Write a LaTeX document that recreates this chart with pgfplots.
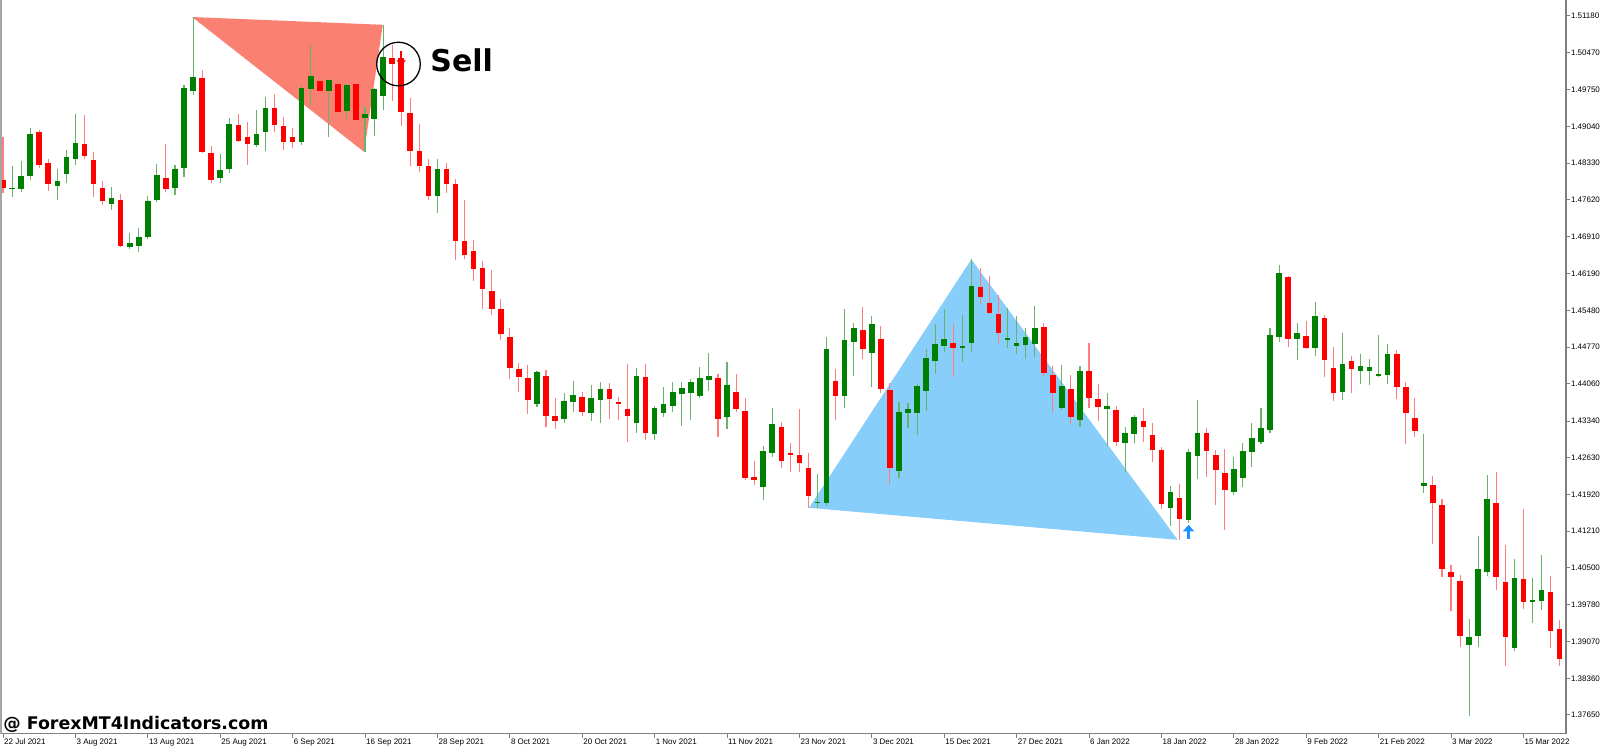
\documentclass[border=0pt]{standalone}
\usepackage{fontspec}
\setmainfont{Liberation Sans}
\newfontfamily\dejavu{DejaVu Sans}
\usepackage{pgfplots}
\usepackage{pgfplotstable}
\pgfplotsset{compat=1.18}
\usetikzlibrary{arrows.meta}

\definecolor{bull}{RGB}{0,128,0}
\definecolor{bear}{RGB}{255,0,0}
\definecolor{bullwick}{RGB}{105,178,105}
\definecolor{bearwick}{RGB}{255,125,125}
\definecolor{salmon}{RGB}{250,128,114}
\definecolor{skyblue}{RGB}{135,206,250}
\definecolor{buyblue}{RGB}{30,144,255}
\definecolor{axisgray}{RGB}{128,128,128}
\definecolor{border}{RGB}{165,165,165}

% daily candles, i = bar number (0 = 22 Jul 2021)
\pgfplotstableread{
i o h l c
1 1.4783 1.4828 1.4768 1.4786
2 1.4783 1.4837 1.4777 1.4808
3 1.4808 1.4901 1.4801 1.4890
6 1.4789 1.4822 1.4762 1.4799
7 1.4812 1.4859 1.4795 1.4845
8 1.4841 1.4928 1.4830 1.4872
12 1.4754 1.4787 1.4743 1.4766
14 1.4671 1.4698 1.4667 1.4679
15 1.4673 1.4708 1.4661 1.4690
16 1.4690 1.4770 1.4686 1.4760
17 1.4762 1.4832 1.4758 1.4810
19 1.4785 1.4830 1.4772 1.4822
20 1.4824 1.4984 1.4806 1.4979
21 1.4973 1.5116 1.4965 1.5000
24 1.4804 1.4851 1.4795 1.4820
25 1.4822 1.4921 1.4814 1.4909
28 1.4868 1.4936 1.4864 1.4890
29 1.4894 1.4961 1.4857 1.4940
33 1.4874 1.4984 1.4868 1.4979
34 1.4976 1.5064 1.4944 1.5001
36 1.4973 1.4996 1.4884 1.4994
38 1.4935 1.4986 1.4919 1.4984
40 1.4921 1.4942 1.4855 1.4928
41 1.4918 1.4979 1.4886 1.4977
42 1.4963 1.5101 1.4936 1.5039
48 1.4770 1.4842 1.4737 1.4821
59 1.4367 1.4431 1.4361 1.4429
62 1.4338 1.4389 1.4330 1.4373
63 1.4370 1.4412 1.4351 1.4385
65 1.4350 1.4403 1.4334 1.4379
66 1.4375 1.4410 1.4331 1.4396
70 1.4330 1.4436 1.4311 1.4422
72 1.4308 1.4364 1.4297 1.4360
73 1.4350 1.4400 1.4341 1.4367
74 1.4363 1.4410 1.4352 1.4390
75 1.4386 1.4410 1.4325 1.4397
76 1.4389 1.4415 1.4336 1.4409
77 1.4383 1.4439 1.4379 1.4418
78 1.4414 1.4465 1.4392 1.4421
80 1.4342 1.4449 1.4318 1.4404
84 1.4207 1.4286 1.4181 1.4276
85 1.4272 1.4360 1.4265 1.4328
90 1.4175 1.4231 1.4165 1.4178
91 1.4175 1.4496 1.4170 1.4473
93 1.4382 1.4551 1.4360 1.4491
94 1.4488 1.4523 1.4422 1.4514
96 1.4466 1.4537 1.4400 1.4521
99 1.4237 1.4370 1.4224 1.4351
100 1.4350 1.4369 1.4321 1.4357
101 1.4350 1.4405 1.4307 1.4402
102 1.4393 1.4473 1.4354 1.4457
103 1.4451 1.4521 1.4426 1.4483
104 1.4479 1.4551 1.4468 1.4493
106 1.4476 1.4539 1.4448 1.4480
107 1.4485 1.4647 1.4468 1.4595
111 1.4491 1.4552 1.4476 1.4494
112 1.4480 1.4538 1.4464 1.4486
113 1.4481 1.4514 1.4455 1.4496
114 1.4484 1.4557 1.4457 1.4514
117 1.4359 1.4443 1.4355 1.4402
119 1.4337 1.4441 1.4323 1.4430
122 1.4357 1.4388 1.4286 1.4363
124 1.4292 1.4323 1.4235 1.4311
125 1.4308 1.4346 1.4291 1.4342
129 1.4165 1.4208 1.4130 1.4197
131 1.4143 1.4279 1.4137 1.4274
132 1.4267 1.4375 1.4221 1.4311
136 1.4197 1.4265 1.4191 1.4241
137 1.4223 1.4291 1.4206 1.4276
138 1.4274 1.4330 1.4246 1.4301
139 1.4294 1.4360 1.4289 1.4320
140 1.4317 1.4514 1.4311 1.4501
141 1.4496 1.4636 1.4488 1.4620
143 1.4493 1.4524 1.4452 1.4505
145 1.4475 1.4564 1.4460 1.4538
148 1.4390 1.4504 1.4375 1.4444
150 1.4430 1.4464 1.4406 1.4441
151 1.4431 1.4455 1.4404 1.4438
152 1.4421 1.4500 1.4420 1.4425
153 1.4423 1.4483 1.4406 1.4464
157 1.4208 1.4309 1.4195 1.4215
162 1.3900 1.3950 1.3764 1.3915
163 1.3917 1.4112 1.3896 1.4047
164 1.4042 1.4229 1.4034 1.4184
167 1.3894 1.4068 1.3889 1.4030
169 1.3983 1.4031 1.3943 1.3988
170 1.3986 1.4075 1.3968 1.4007
}\bullish

\pgfplotstableread{
i o h l c
0 1.4801 1.4884 1.4775 1.4785
4 1.4894 1.4897 1.4824 1.4830
5 1.4834 1.4841 1.4779 1.4793
9 1.4870 1.4926 1.4841 1.4847
10 1.4839 1.4855 1.4768 1.4793
11 1.4785 1.4799 1.4752 1.4760
13 1.4762 1.4774 1.4671 1.4673
18 1.4804 1.4870 1.4777 1.4783
22 1.4998 1.5014 1.4853 1.4855
23 1.4853 1.4866 1.4795 1.4801
26 1.4907 1.4928 1.4874 1.4876
27 1.4884 1.4913 1.4830 1.4870
30 1.4940 1.4968 1.4894 1.4907
31 1.4905 1.4923 1.4859 1.4875
32 1.4884 1.4902 1.4862 1.4874
35 1.4992 1.5050 1.4938 1.4973
37 1.4986 1.4988 1.4913 1.4932
39 1.4986 1.5017 1.4915 1.4917
43 1.5037 1.5061 1.4953 1.5025
44 1.5037 1.5041 1.4905 1.4933
45 1.4931 1.4959 1.4828 1.4857
46 1.4857 1.4910 1.4817 1.4828
47 1.4828 1.4841 1.4761 1.4770
49 1.4822 1.4833 1.4775 1.4792
50 1.4793 1.4803 1.4646 1.4683
51 1.4682 1.4762 1.4647 1.4656
52 1.4663 1.4684 1.4606 1.4628
53 1.4630 1.4644 1.4551 1.4590
54 1.4586 1.4626 1.4540 1.4551
55 1.4550 1.4571 1.4490 1.4503
56 1.4497 1.4515 1.4415 1.4436
57 1.4435 1.4446 1.4391 1.4420
58 1.4418 1.4443 1.4348 1.4375
60 1.4422 1.4433 1.4323 1.4344
61 1.4344 1.4378 1.4319 1.4335
64 1.4381 1.4391 1.4344 1.4352
67 1.4396 1.4407 1.4338 1.4377
68 1.4370 1.4380 1.4337 1.4368
69 1.4357 1.4445 1.4294 1.4344
71 1.4419 1.4445 1.4297 1.4311
79 1.4418 1.4425 1.4304 1.4338
81 1.4390 1.4425 1.4352 1.4358
82 1.4354 1.4379 1.4219 1.4224
83 1.4225 1.4257 1.4210 1.4219
86 1.4322 1.4333 1.4243 1.4257
87 1.4272 1.4292 1.4236 1.4269
88 1.4268 1.4357 1.4236 1.4253
89 1.4244 1.4273 1.4166 1.4188
92 1.4412 1.4434 1.4336 1.4383
95 1.4510 1.4555 1.4455 1.4474
97 1.4492 1.4518 1.4389 1.4397
98 1.4395 1.4407 1.4212 1.4243
105 1.4486 1.4522 1.4420 1.4475
108 1.4593 1.4630 1.4560 1.4575
109 1.4563 1.4615 1.4541 1.4544
110 1.4541 1.4577 1.4485 1.4505
115 1.4516 1.4524 1.4421 1.4428
116 1.4423 1.4441 1.4350 1.4389
118 1.4396 1.4423 1.4329 1.4341
120 1.4430 1.4485 1.4359 1.4379
121 1.4377 1.4405 1.4334 1.4362
123 1.4355 1.4363 1.4286 1.4294
126 1.4334 1.4360 1.4294 1.4322
127 1.4306 1.4330 1.4255 1.4278
128 1.4277 1.4283 1.4163 1.4174
130 1.4185 1.4212 1.4104 1.4144
133 1.4310 1.4321 1.4226 1.4277
134 1.4269 1.4278 1.4172 1.4239
135 1.4233 1.4280 1.4123 1.4201
142 1.4613 1.4615 1.4477 1.4492
144 1.4499 1.4528 1.4473 1.4476
146 1.4533 1.4539 1.4419 1.4452
147 1.4436 1.4478 1.4373 1.4389
149 1.4450 1.4460 1.4388 1.4435
154 1.4464 1.4472 1.4377 1.4399
155 1.4399 1.4410 1.4290 1.4349
156 1.4339 1.4378 1.4304 1.4315
158 1.4210 1.4228 1.4097 1.4176
159 1.4171 1.4183 1.4033 1.4047
160 1.4041 1.4056 1.3967 1.4033
161 1.4024 1.4036 1.3897 1.3918
165 1.4175 1.4235 1.4006 1.4033
166 1.4022 1.4095 1.3859 1.3916
168 1.4028 1.4163 1.3971 1.3984
171 1.4003 1.4034 1.3894 1.3928
172 1.3931 1.3949 1.3859 1.3873
}\bearish

\pgfplotsset{
  wicks/.style={only marks, mark=text, text mark={},
    error bars/.cd, y dir=both, y explicit, error mark=none,
    error bar style={line width=0.55pt, draw=#1}},
  bodies/.style={only marks, mark=text, text mark={},
    error bars/.cd, y dir=both, y explicit, error mark=none,
    error bar style={line width=2.8pt, draw=#1}},
}

\begin{document}
\begin{tikzpicture}
\useasboundingbox (0,0) rectangle (800pt,373.5pt);
\begin{axis}[
  at={(0pt,373.5pt)}, anchor=north west,
  scale only axis, width=783pt, height=366.85pt,
  xmin=-0.3315, xmax=172.707,
  ymin=1.37288, ymax=1.51490,
  axis x line*=bottom, axis y line*=right,
  axis line style={draw=axisgray, line width=0.6pt},
  tick style={draw=axisgray, line width=0.5pt},
  tick align=outside, major tick length=2pt,
  xtick={0,8,...,168},
  xticklabels={22 Jul 2021,3 Aug 2021,13 Aug 2021,25 Aug 2021,6 Sep 2021,16 Sep 2021,28 Sep 2021,8 Oct 2021,20 Oct 2021,1 Nov 2021,11 Nov 2021,23 Nov 2021,3 Dec 2021,15 Dec 2021,27 Dec 2021,6 Jan 2022,18 Jan 2022,28 Jan 2022,9 Feb 2022,21 Feb 2022,3 Mar 2022,15 Mar 2022},
  ytick={1.37650,1.38360,1.39070,1.39780,1.40500,1.41210,1.41920,1.42630,1.43340,1.44060,1.44770,1.45480,1.46190,1.46910,1.47620,1.48330,1.49040,1.49750,1.50470,1.51180},
  yticklabels={1.37650,1.38360,1.39070,1.39780,1.40500,1.41210,1.41920,1.42630,1.43340,1.44060,1.44770,1.45480,1.46190,1.46910,1.47620,1.48330,1.49040,1.49750,1.50470,1.51180},
  xticklabel style={font=\fontsize{4}{5}\selectfont, anchor=north west, inner sep=0.4pt},
  yticklabel style={font=\fontsize{4}{5}\selectfont, anchor=west, inner sep=0.3pt},
]
% pattern triangles
\addplot[fill=salmon, draw=none] coordinates {(20.9,1.5116) (41.96,1.5101) (39.9,1.4855)} -- cycle;
\addplot[fill=skyblue, draw=none] coordinates {(89.06,1.4166) (107,1.4647) (129.8,1.4104)} -- cycle;

% wicks
\addplot[wicks=bullwick] table[x=i, y expr={(\thisrow{h}+\thisrow{l})/2}, y error expr={(\thisrow{h}-\thisrow{l})/2}] {\bullish};
\addplot[wicks=bearwick] table[x=i, y expr={(\thisrow{h}+\thisrow{l})/2}, y error expr={(\thisrow{h}-\thisrow{l})/2}] {\bearish};
% bodies
\addplot[bodies=bull] table[x=i, y expr={(\thisrow{o}+\thisrow{c})/2}, y error expr={max(abs(\thisrow{c}-\thisrow{o})/2,0.0001)}] {\bullish};
\addplot[bodies=bear] table[x=i, y expr={(\thisrow{o}+\thisrow{c})/2}, y error expr={max(abs(\thisrow{c}-\thisrow{o})/2,0.0001)}] {\bearish};

% signals
\addplot[bear, line width=0.9pt, -{Triangle[length=2.6pt,width=4.6pt]}] coordinates {(44,1.5051) (44,1.5022)};
\addplot[only marks, mark=o, mark size=10.9pt, mark options={draw=black, line width=0.65pt}] coordinates {(43.7,1.5025)};
\addplot[buyblue, line width=1.3pt, -{Triangle[length=3.3pt,width=5.6pt]}] coordinates {(131,1.4106) (131,1.4133)};
\end{axis}
\fill[border] (0pt,6.65pt) rectangle (1.15pt,373.5pt);
\node[anchor=base west, inner sep=0pt, font=\dejavu\bfseries\fontsize{15}{18}\selectfont] at (215pt,337.7pt) {Sell};
\node[anchor=base west, inner sep=0pt, font=\dejavu\bfseries\fontsize{8.7}{10}\selectfont] at (1.5pt,8.5pt) {@ ForexMT4Indicators.com};
\end{tikzpicture}
\end{document}
